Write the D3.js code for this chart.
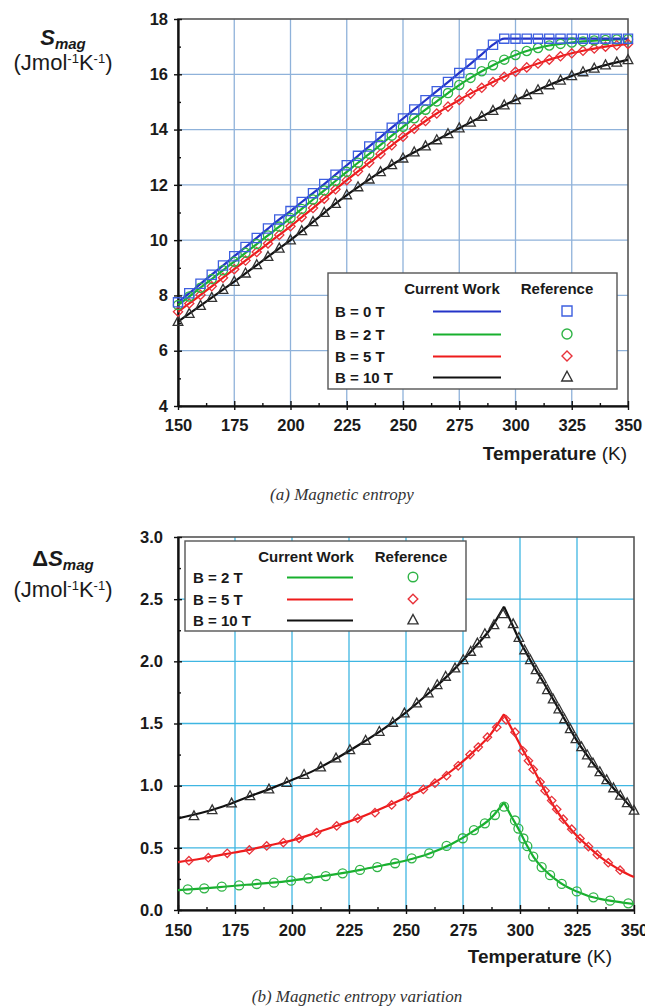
<!DOCTYPE html>
<html><head><meta charset="utf-8">
<script src="https://cdn.jsdelivr.net/npm/d3@7"></script>
<style>body{margin:0;background:#fff}</style>
</head><body><svg id="c" width="645" height="1008"></svg>
<script>
// ---------- DATA ----------
const xTickVals=[150,175,200,225,250,275,300,325,350];
const xTickLabels=["150","175","200","225","250","275","300","325","350"];
const xMinorVals=[162.5,187.5,212.5,237.5,262.5,287.5,312.5,337.5];
const yTickValsTop=[4,6,8,10,12,14,16,18];
const yTickLabelsTop=["4","6","8","10","12","14","16","18"];
const yMinorTop=[5,7,9,11,13,15,17];
const yTickValsBot=[0,0.5,1,1.5,2,2.5,3];
const yTickLabelsBot=["0.0","0.5","1.0","1.5","2.0","2.5","3.0"];
const yMinorBot=[0.25,0.75,1.25,1.75,2.25,2.75];

// (a) magnetic entropy
const tempsTop=[150,155,160,165,170,175,180,185,190,195,200,205,210,215,220,225,230,235,240,245,250,255,260,265,270,275,280,285,290,295,300,305,310,315,320,325,330,335,340,345,350];
const sB0=[7.75,8.08,8.42,8.75,9.08,9.42,9.75,10.08,10.42,10.75,11.05,11.38,11.70,12.03,12.37,12.71,13.05,13.39,13.73,14.07,14.40,14.73,15.06,15.39,15.72,16.05,16.38,16.72,17.07,17.29,17.29,17.29,17.29,17.29,17.29,17.29,17.29,17.29,17.29,17.29,17.29];
const sB2=[7.65,7.96,8.28,8.59,8.91,9.22,9.54,9.86,10.17,10.49,10.80,11.13,11.47,11.80,12.14,12.47,12.80,13.12,13.45,13.78,14.10,14.41,14.72,15.02,15.32,15.61,15.87,16.11,16.33,16.53,16.70,16.84,16.95,17.04,17.10,17.15,17.19,17.22,17.24,17.26,17.27];
const sB5=[7.41,7.71,8.02,8.33,8.64,8.95,9.26,9.57,9.88,10.19,10.50,10.83,11.16,11.50,11.84,12.17,12.49,12.80,13.12,13.43,13.74,14.03,14.31,14.58,14.83,15.07,15.30,15.51,15.72,15.91,16.09,16.25,16.39,16.53,16.65,16.76,16.85,16.93,17.00,17.05,17.10];
const sB10=[7.05,7.34,7.63,7.92,8.21,8.50,8.80,9.10,9.40,9.70,10.00,10.33,10.66,10.99,11.32,11.63,11.92,12.20,12.47,12.72,12.96,13.18,13.40,13.62,13.84,14.05,14.26,14.47,14.68,14.88,15.07,15.25,15.43,15.61,15.78,15.94,16.08,16.21,16.33,16.43,16.52];

// (b) magnetic entropy variation - current work (lines)
const lineTempsBot=[150,160,170,180,190,200,210,220,230,240,250,260,270,280,287,293,296,300,303,306,310,315,320,325,330,335,340,345,350];
const dB2=[0.160,0.172,0.187,0.203,0.218,0.237,0.262,0.290,0.323,0.360,0.398,0.452,0.530,0.640,0.735,0.865,0.760,0.630,0.520,0.425,0.335,0.255,0.192,0.148,0.113,0.090,0.073,0.060,0.048];
const dB5=[0.385,0.412,0.447,0.480,0.520,0.560,0.617,0.680,0.745,0.822,0.905,0.995,1.120,1.280,1.410,1.575,1.470,1.330,1.230,1.130,0.990,0.830,0.700,0.595,0.510,0.430,0.365,0.310,0.265];
const dB10=[0.737,0.780,0.835,0.905,0.972,1.045,1.125,1.225,1.335,1.455,1.590,1.745,1.915,2.110,2.260,2.440,2.320,2.160,2.060,1.960,1.840,1.680,1.520,1.360,1.230,1.110,1.000,0.900,0.800];
const peakT=293;
// (b) reference (markers)
const mB2T=[154.3,161.5,169.2,176.8,184.5,192.1,199.6,207.2,214.8,222.2,229.8,237.4,245.2,252.5,260.2,267.8,274.9,279.8,284.6,289,293,297.8,299.3,301.5,303.2,305.8,309.5,313.2,318.3,324.9,332.2,339.5,347.5];
const mB2V=[0.166,0.174,0.188,0.198,0.209,0.220,0.236,0.255,0.273,0.295,0.322,0.345,0.376,0.416,0.456,0.515,0.577,0.643,0.697,0.764,0.831,0.720,0.655,0.575,0.513,0.430,0.345,0.280,0.210,0.149,0.102,0.075,0.054];
const mB5T=[154.8,163.3,171.6,181.3,188.9,196.2,203.1,210.8,219.6,228.8,236.4,243.7,251,257.6,262.7,267.8,272.9,278.1,281.7,285.7,289.8,293.9,297.8,301.2,303.7,305.8,308.8,311,313.9,316.1,319,322.7,326.3,330,333.9,338.7,343.9];
const mB5V=[0.397,0.421,0.456,0.483,0.515,0.542,0.576,0.622,0.676,0.737,0.783,0.845,0.911,0.970,1.020,1.080,1.160,1.250,1.310,1.390,1.470,1.530,1.430,1.280,1.200,1.130,1.030,0.960,0.880,0.810,0.730,0.650,0.575,0.510,0.445,0.380,0.320];
const mB10T=[157,165,173.5,181.6,189.9,197.7,205.3,212.6,219.3,225.4,232.3,238.3,244.2,249.3,254.7,259.8,263.7,267.4,271.5,275.1,278.4,281.3,284.6,288.6,292.5,297,299.5,302,304.5,307,309.5,312,314.5,317,319.5,322,324.5,327,329.5,332,335,338,341,344,347,350];
const mB10V=[0.756,0.804,0.858,0.917,0.971,1.024,1.088,1.148,1.220,1.287,1.362,1.434,1.507,1.582,1.662,1.743,1.810,1.877,1.944,2.011,2.078,2.145,2.220,2.292,2.380,2.300,2.190,2.090,2.010,1.930,1.855,1.770,1.695,1.615,1.535,1.455,1.375,1.310,1.245,1.180,1.110,1.045,0.980,0.920,0.860,0.800];

const legendTopLabels=["B = 0 T","B = 2 T","B = 5 T","B = 10 T"];
const legendBotLabels=["B = 2 T","B = 5 T","B = 10 T"];

// ---------- DRAW ----------
const SANS="'Liberation Sans', Arial, Helvetica, sans-serif";
const SERIF="'Liberation Serif', 'Times New Roman', serif";
const svg=d3.select("#c");
svg.append("rect").attr("width",645).attr("height",1008).attr("fill","#fff");

const COL={
  blue:{line:"#2434c8",mark:"#3d5fe0",shape:"square"},
  green:{line:"#18b02e",mark:"#2fb446",shape:"circle"},
  red:{line:"#ee1b1b",mark:"#e8323a",shape:"diamond"},
  black:{line:"#111111",mark:"#333333",shape:"triangle"}
};
function shapePath(type,s){
  if(type==="square") return `M${-s},${-s}h${2*s}v${2*s}h${-2*s}Z`;
  if(type==="circle") return d3.symbol(d3.symbolCircle,Math.PI*s*s)();
  if(type==="diamond") return `M0,${-s}L${s},0L0,${s}L${-s},0Z`;
  return `M0,${-s*1.15}L${s*1.05},${s*0.8}L${-s*1.05},${s*0.8}Z`;
}

function panel(o){
  const g=svg.append("g");
  const x=d3.scaleLinear().domain([150,350]).range([o.l,o.r]);
  const y=d3.scaleLinear().domain(o.yd).range([o.b,o.t]);
  g.selectAll(null).data(xTickVals.slice(1,-1)).join("line")
    .attr("x1",d=>x(d)).attr("x2",d=>x(d)).attr("y1",o.t).attr("y2",o.b)
    .attr("stroke",o.grid).attr("stroke-width",1.3);
  g.selectAll(null).data(o.yTicks.slice(1,-1)).join("line")
    .attr("y1",d=>y(d)).attr("y2",d=>y(d)).attr("x1",o.l).attr("x2",o.r)
    .attr("stroke",o.grid).attr("stroke-width",1.3);
  g.append("rect").attr("x",o.l).attr("y",o.t).attr("width",o.r-o.l).attr("height",o.b-o.t)
    .attr("fill","none").attr("stroke","#555").attr("stroke-width",1.6);
  g.append("g").attr("transform",`translate(0,${o.b})`)
    .call(d3.axisBottom(x).tickValues(xTickVals).tickFormat((d,i)=>xTickLabels[i]).tickSize(4).tickSizeOuter(0).tickPadding(o.xPad));
  g.append("g").attr("transform",`translate(0,${o.b})`)
    .call(d3.axisBottom(x).tickValues(xTickVals).tickFormat("").tickSize(-5).tickSizeOuter(0));
  g.append("g").attr("transform",`translate(0,${o.b})`)
    .call(d3.axisBottom(x).tickValues(xMinorVals).tickFormat("").tickSize(-3).tickSizeOuter(0));
  g.append("g").attr("transform",`translate(${o.l},0)`)
    .call(d3.axisLeft(y).tickValues(o.yTicks).tickFormat((d,i)=>o.yLabels[i]).tickSize(4).tickSizeOuter(0).tickPadding(o.yPad));
  g.append("g").attr("transform",`translate(${o.l},0)`)
    .call(d3.axisLeft(y).tickValues(o.yTicks).tickFormat("").tickSize(-4).tickSizeOuter(0));
  g.append("g").attr("transform",`translate(${o.l},0)`)
    .call(d3.axisLeft(y).tickValues(o.yMinor).tickFormat("").tickSize(-3).tickSizeOuter(0));
  g.selectAll(".domain").attr("stroke","#111").attr("stroke-width",1.6);
  g.selectAll(".tick line").attr("stroke","#111").attr("stroke-width",1.4);
  g.selectAll(".tick text").attr("font-family",SANS).attr("font-weight","bold").attr("font-size",16.5).attr("fill","#1a1a1a");
  return {g,x,y};
}

// ===== Panel (a) =====
const A=panel({l:178,r:628,t:19,b:406,yd:[4,18],yTicks:yTickValsTop,yLabels:yTickLabelsTop,yMinor:yMinorTop,grid:"#8fb2da",xPad:9,yPad:6});
const topSeries=[
  {vals:sB10,c:COL.black},{vals:sB5,c:COL.red},{vals:sB2,c:COL.green},{vals:sB0,c:COL.blue}
];
const lineA=d3.line().x(d=>A.x(d[0])).y(d=>A.y(d[1])).curve(d3.curveMonotoneX);
topSeries.forEach(s=>{
  const pts=tempsTop.map((t,i)=>[t,s.vals[i]]);
  A.g.append("path").attr("d",lineA(pts)).attr("fill","none").attr("stroke",s.c.line).attr("stroke-width",2.2);
});
topSeries.forEach(s=>{
  const pts=tempsTop.map((t,i)=>[t,s.vals[i]]);
  A.g.selectAll(null).data(pts).join("path")
    .attr("transform",d=>`translate(${A.x(d[0])},${A.y(d[1])})`)
    .attr("d",shapePath(s.c.shape,4.6)).attr("fill","none").attr("stroke",s.c.mark).attr("stroke-width",1.3);
});
const lgA=svg.append("g");
lgA.append("rect").attr("x",328).attr("y",273).attr("width",289).attr("height",116).attr("fill","#fff").attr("stroke","#555").attr("stroke-width",1.4);
lgA.append("text").attr("x",452).attr("y",294).attr("text-anchor","middle").text("Current Work");
lgA.append("text").attr("x",557).attr("y",294).attr("text-anchor","middle").text("Reference");
const legA=[COL.blue,COL.green,COL.red,COL.black];
const rowA=[317,340,362,383];
legendTopLabels.forEach((lab,i)=>{
  lgA.append("text").attr("x",335).attr("y",rowA[i]).text(lab);
  lgA.append("line").attr("x1",433).attr("x2",501).attr("y1",rowA[i]-5.5).attr("y2",rowA[i]-5.5).attr("stroke",legA[i].line).attr("stroke-width",2);
  lgA.append("path").attr("transform",`translate(567,${rowA[i]-6})`).attr("d",shapePath(legA[i].shape,5)).attr("fill","none").attr("stroke",legA[i].mark).attr("stroke-width",1.4);
});
lgA.selectAll("text").attr("font-family",SANS).attr("font-weight","bold").attr("font-size",15).attr("fill","#1a1a1a");

const yA=svg.append("text").attr("x",63).attr("y",45).attr("text-anchor","middle").attr("font-family",SANS).attr("fill","#1a1a1a");
yA.append("tspan").attr("font-weight","bold").attr("font-style","italic").attr("font-size",22).text("S");
yA.append("tspan").attr("font-weight","bold").attr("font-style","italic").attr("font-size",15).attr("dy",4).text("mag");
function unitsLabel(xc,yb){
  const t=svg.append("text").attr("x",xc).attr("y",yb).attr("text-anchor","middle").attr("font-family",SANS).attr("font-size",22).attr("fill","#1a1a1a");
  t.append("tspan").text("(Jmol");
  t.append("tspan").attr("font-size",13).attr("dy",-7).text("-1");
  t.append("tspan").attr("dy",7).text("K");
  t.append("tspan").attr("font-size",13).attr("dy",-7).text("-1");
  t.append("tspan").attr("dy",7).text(")");
}
unitsLabel(63,70);
function xTitle(xr,yb){
  const t=svg.append("text").attr("x",xr).attr("y",yb).attr("text-anchor","end").attr("font-family",SANS).attr("font-size",19).attr("fill","#1a1a1a");
  t.append("tspan").attr("font-weight","bold").text("Temperature");
  t.append("tspan").text(" (K)");
}
xTitle(627,460);
svg.append("text").attr("x",342).attr("y",500).attr("text-anchor","middle").attr("font-family",SERIF).attr("font-style","italic").attr("font-size",17).attr("fill","#333").text("(a) Magnetic entropy");

// ===== Panel (b) =====
const B=panel({l:178,r:634,t:537,b:910,yd:[0,3],yTicks:yTickValsBot,yLabels:yTickLabelsBot,yMinor:yMinorBot,grid:"#3fb6e2",xPad:10,yPad:11});
const lineB=d3.line().x(d=>B.x(d[0])).y(d=>B.y(d[1])).curve(d3.curveMonotoneX);
const botSeries=[
  {vals:dB10,mt:mB10T,mv:mB10V,c:COL.black},
  {vals:dB5,mt:mB5T,mv:mB5V,c:COL.red},
  {vals:dB2,mt:mB2T,mv:mB2V,c:COL.green}
];
botSeries.forEach(s=>{
  const pts=lineTempsBot.map((t,i)=>[t,s.vals[i]]);
  const left=pts.filter(p=>p[0]<=peakT), right=pts.filter(p=>p[0]>=peakT);
  [left,right].forEach(seg=>B.g.append("path").attr("d",lineB(seg)).attr("fill","none").attr("stroke",s.c.line).attr("stroke-width",2.2));
});
botSeries.forEach(s=>{
  const pts=s.mt.map((t,i)=>[t,s.mv[i]]);
  B.g.selectAll(null).data(pts).join("path")
    .attr("transform",d=>`translate(${B.x(d[0])},${B.y(d[1])})`)
    .attr("d",shapePath(s.c.shape,s.c.shape==="diamond"?4.2:4.5)).attr("fill","none").attr("stroke",s.c.mark).attr("stroke-width",1.3);
});
const lgB=svg.append("g");
lgB.append("rect").attr("x",185).attr("y",541).attr("width",281).attr("height",90).attr("fill","#fff").attr("stroke","#555").attr("stroke-width",1.4);
lgB.append("text").attr("x",306).attr("y",562).attr("text-anchor","middle").text("Current Work");
lgB.append("text").attr("x",411).attr("y",562).attr("text-anchor","middle").text("Reference");
const legB=[COL.green,COL.red,COL.black];
const rowB=[583,605,626];
legendBotLabels.forEach((lab,i)=>{
  lgB.append("text").attr("x",193).attr("y",rowB[i]).text(lab);
  lgB.append("line").attr("x1",287).attr("x2",353).attr("y1",rowB[i]-5.5).attr("y2",rowB[i]-5.5).attr("stroke",legB[i].line).attr("stroke-width",2);
  lgB.append("path").attr("transform",`translate(413,${rowB[i]-6})`).attr("d",shapePath(legB[i].shape,4.8)).attr("fill","none").attr("stroke",legB[i].mark).attr("stroke-width",1.4);
});
lgB.selectAll("text").attr("font-family",SANS).attr("font-weight","bold").attr("font-size",15).attr("fill","#1a1a1a");

const yB=svg.append("text").attr("x",63).attr("y",566).attr("text-anchor","middle").attr("font-family",SANS).attr("fill","#1a1a1a");
yB.append("tspan").attr("font-weight","bold").attr("font-size",22).text("Δ");
yB.append("tspan").attr("font-weight","bold").attr("font-style","italic").attr("font-size",22).text("S");
yB.append("tspan").attr("font-weight","bold").attr("font-style","italic").attr("font-size",15).attr("dy",4).text("mag");
unitsLabel(63,597);
xTitle(612,963);
svg.append("text").attr("x",357).attr("y",1002).attr("text-anchor","middle").attr("font-family",SERIF).attr("font-style","italic").attr("font-size",17).attr("fill","#333").text("(b) Magnetic entropy variation");
</script>
</body></html>
